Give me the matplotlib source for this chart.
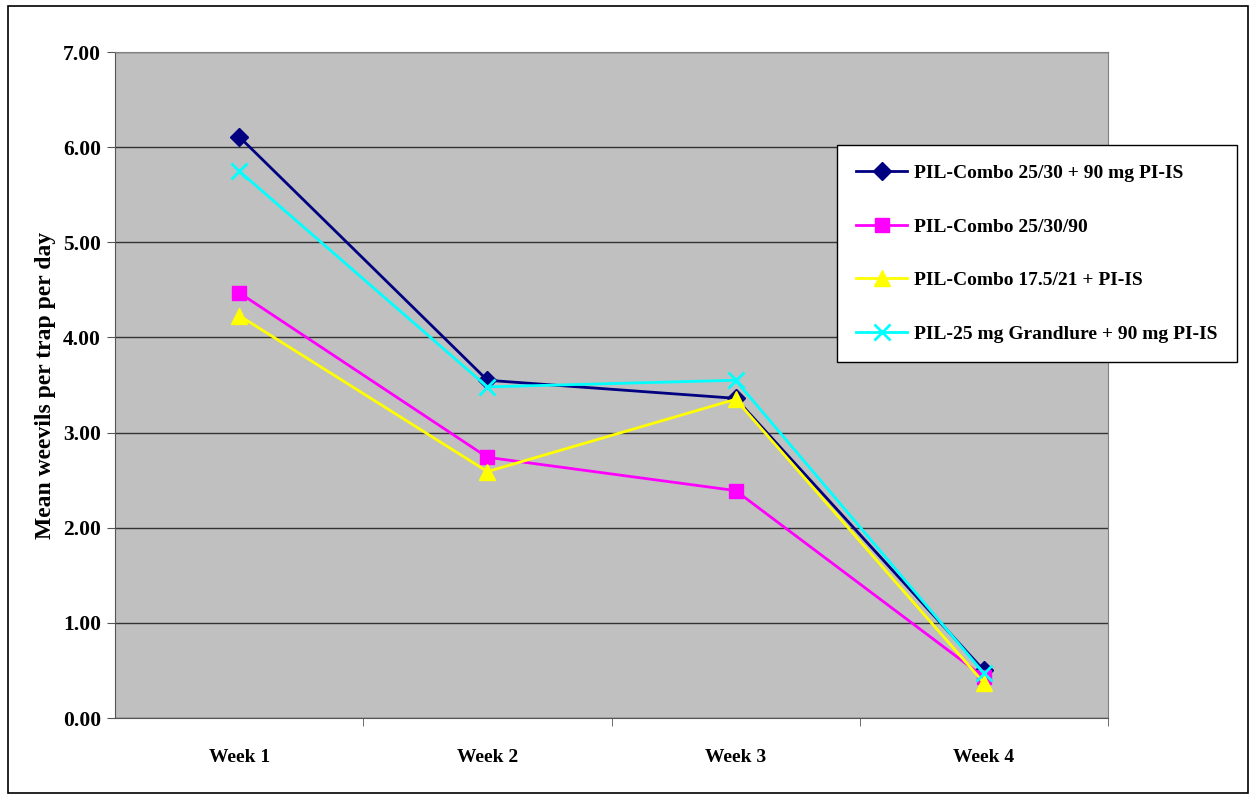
import matplotlib
matplotlib.use("Agg")
import matplotlib.pyplot as plt
from matplotlib.patches import Rectangle

categories = ["Week 1", "Week 2", "Week 3", "Week 4"]
series_names = [
    "PIL-Combo 25/30 + 90 mg PI-IS",
    "PIL-Combo 25/30/90",
    "PIL-Combo 17.5/21 + PI-IS",
    "PIL-25 mg Grandlure + 90 mg PI-IS",
]
combo_25_30_pi = [6.11, 3.55, 3.36, 0.50]
combo_25_30_90 = [4.47, 2.74, 2.39, 0.43]
combo_17_21_pi = [4.23, 2.59, 3.35, 0.37]
grandlure_pi = [5.75, 3.48, 3.55, 0.47]
y_ticks = [0, 1, 2, 3, 4, 5, 6, 7]

plt.rcParams['font.family'] = ['Liberation Serif', 'DejaVu Serif']
plt.rcParams['font.weight'] = 'bold'

fig = plt.figure(figsize=(12.54, 7.99), dpi=100)
fig.patches.append(Rectangle((0.006, 0.008), 0.989, 0.984, transform=fig.transFigure,
                             fill=False, edgecolor='black', linewidth=1.2))
ax = fig.add_axes([115/1254, 1-718/799, (1108-115)/1254, (718-52)/799])
ax.set_facecolor('#C0C0C0')

x = list(range(len(categories)))
styles = [
    (combo_25_30_pi, '#000080', 'D', 9, None),
    (combo_25_30_90, '#FF00FF', 's', 10, None),
    (combo_17_21_pi, '#FFFF00', '^', 11, None),
    (grandlure_pi, '#00FFFF', 'x', 11, 2.0),
]
for (vals, c, m, ms, mew), name in zip(styles, series_names):
    kw = dict(color=c, marker=m, markersize=ms, linewidth=2, label=name,
              markerfacecolor=c, markeredgecolor=c)
    if mew:
        kw['markeredgewidth'] = mew
    ax.plot(x, vals, **kw)

ax.set_xlim(-0.5, 3.5)
ax.set_ylim(0, 7)
ax.set_yticks(y_ticks)
ax.set_yticklabels([f"{v:.2f}" for v in y_ticks], fontsize=15.5, fontweight='bold')
ax.yaxis.grid(True, color='#333333', linewidth=1)
ax.set_axisbelow(True)
ax.set_xticks(x)
ax.set_xticklabels(categories, fontsize=14, fontweight='bold')
ax.tick_params(axis='x', which='major', length=0, pad=22)
ax.set_xticks([0.5, 1.5, 2.5, 3.5], minor=True)
ax.tick_params(axis='x', which='minor', length=6, direction='out', color='#555555')
ax.tick_params(axis='y', length=6, direction='out', color='#555555', pad=4)
for s in ['top', 'right']:
    ax.spines[s].set_color('#808080')
for s in ['left', 'bottom']:
    ax.spines[s].set_color('#555555')
ax.set_ylabel("Mean weevils per trap per day", fontsize=17, fontweight='bold', labelpad=5)

leg = ax.legend(loc='upper left', bbox_to_anchor=(837/1254, 1-145/799), bbox_transform=fig.transFigure,
                prop={'weight': 'bold', 'size': 14}, frameon=True, fancybox=False,
                edgecolor='black', facecolor='white', framealpha=1.0,
                labelspacing=1.85, handlelength=2.6, borderpad=1.0,
                handletextpad=0.35, borderaxespad=0)
leg.get_frame().set_linewidth(1)

fig.savefig("out.png", dpi=100)
